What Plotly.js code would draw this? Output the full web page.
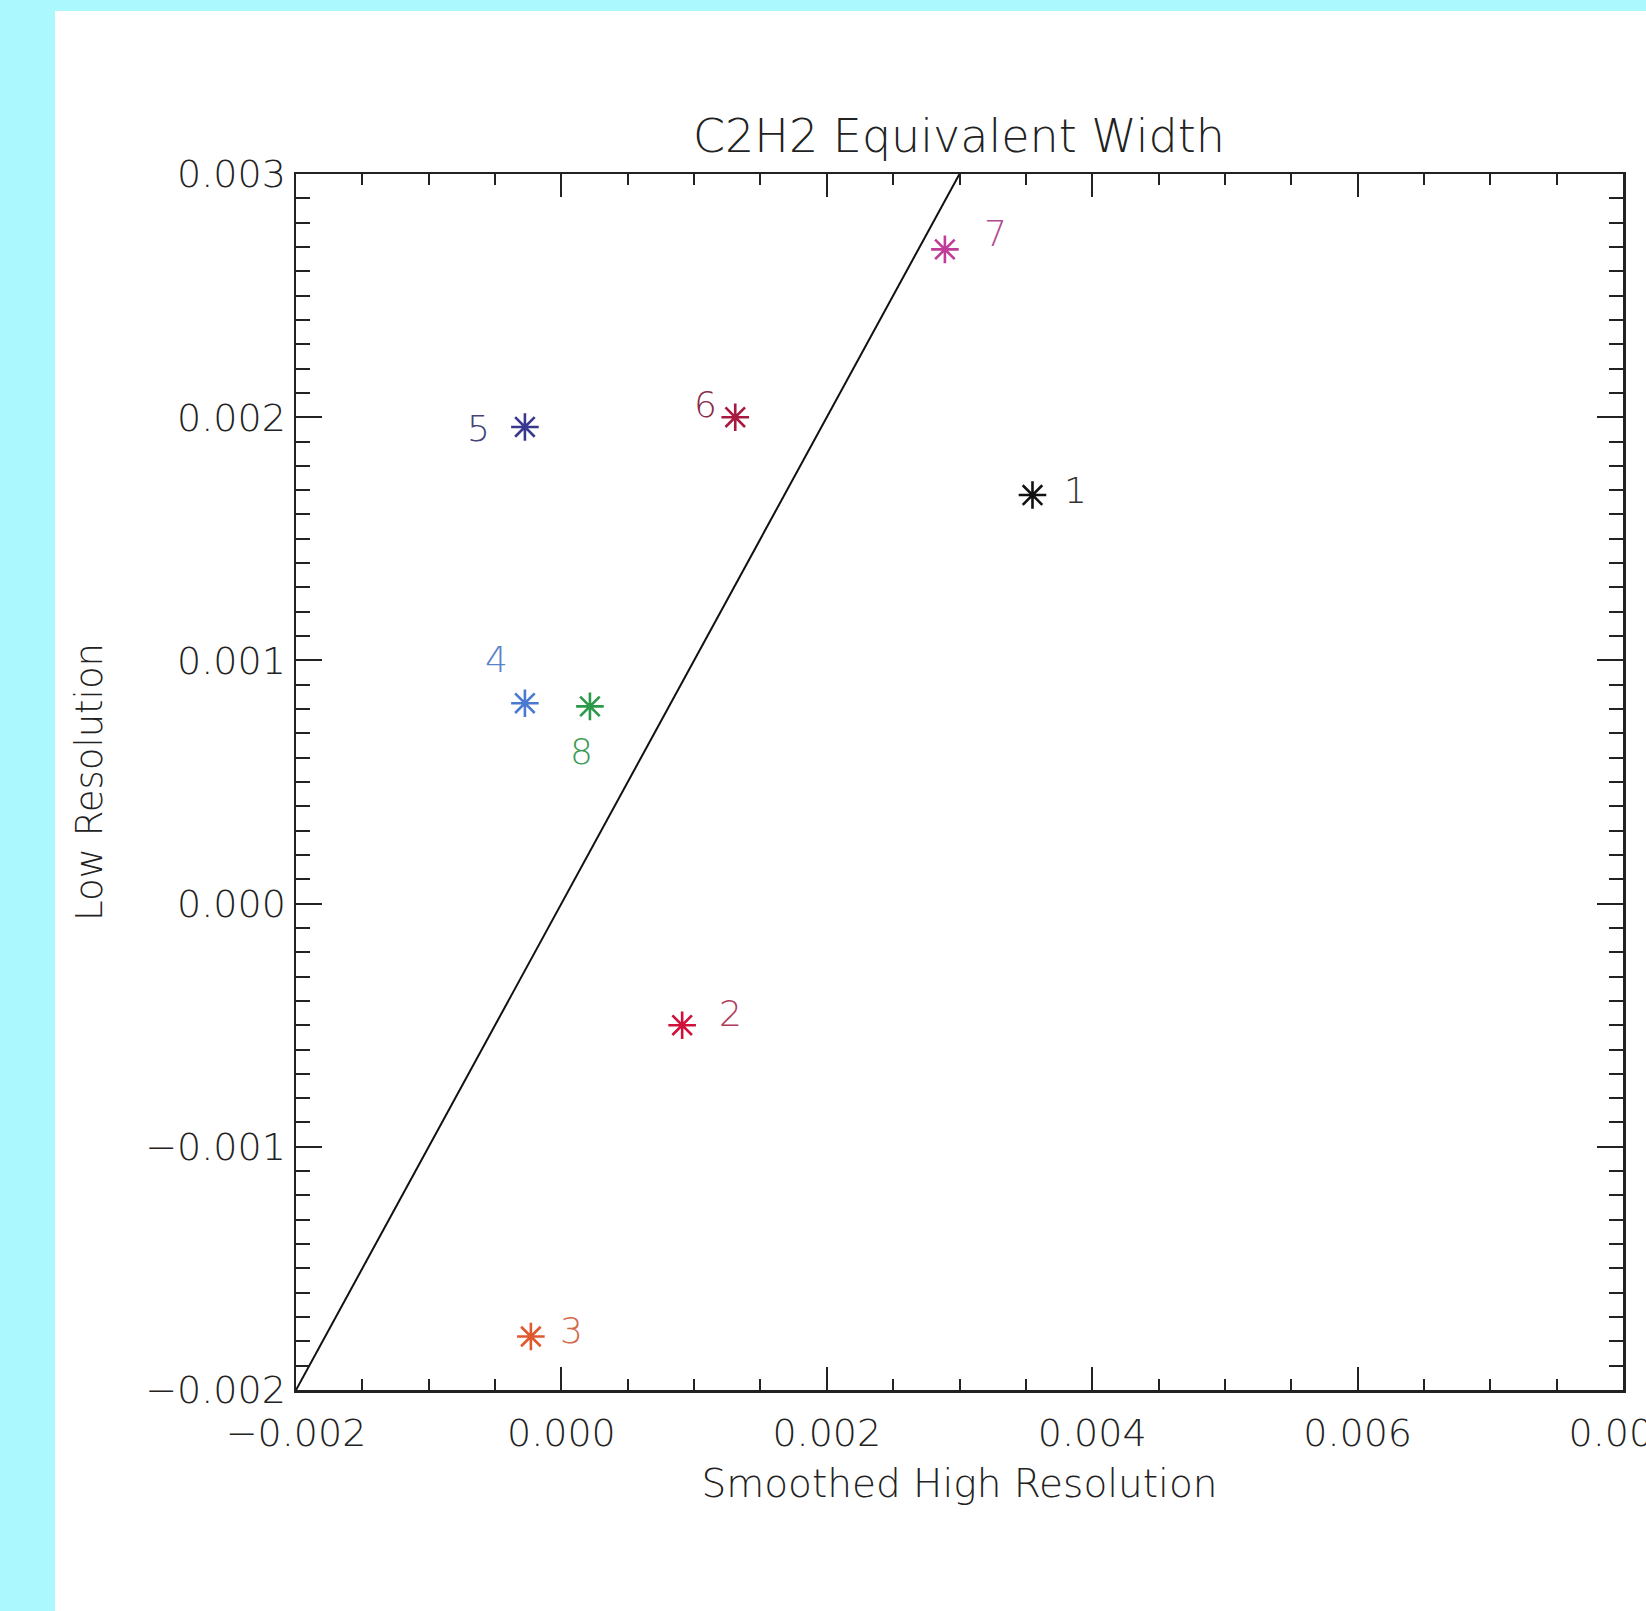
<!DOCTYPE html>
<html>
<head>
<meta charset="utf-8">
<script src="https://cdn.plot.ly/plotly-3.0.1.min.js"></script>
<style>
  html, body { margin: 0; padding: 0; background: #abf9ff; width: 1646px; height: 1611px; overflow: hidden; }
  #chart { position: absolute; left: 55px; top: 11px; width: 1591px; height: 1600px; background: #ffffff; }
</style>
</head>
<body>
<div id="chart"></div>
<script>
// ---- data ----
const pointLabels = ['1', '2', '3', '4', '5', '6', '7', '8'];
const smoothedHighRes = [0.00355, 0.00091, -0.00023, -0.000275, -0.000275, 0.00131, 0.00289, 0.000215];
const lowRes = [0.00168, -0.00050, -0.00178, 0.000824, 0.00196, 0.00200, 0.00269, 0.000811];
const oneToOneLine = [-0.002, 0.003];
const xTickVals = [-0.002, 0.000, 0.002, 0.004, 0.006, 0.008];
const xTickText = ['\u22120.002', '0.000', '0.002', '0.004', '0.006', '0.008'];
const yTickVals = [-0.002, -0.001, 0.000, 0.001, 0.002, 0.003];
const yTickText = ['\u22120.002', '\u22120.001', '0.000', '0.001', '0.002', '0.003'];

// ---- styles ----
const pointColors = ['#111111', '#d0103a', '#e0582e', '#4a7ad0', '#38388e', '#a8183f', '#c03c98', '#2a9a48'];
const labelColors = ['#333333', '#b03a5a', '#d06a4a', '#5a82c8', '#44447a', '#8a2a48', '#b04a90', '#3a9a55'];
const labelShift = [[43, 5], [48, 12], [41, 6], [-28, 44], [-46, -2], [-30, 13], [51, 16], [-8, -45]];

const FONT = '"DejaVu Sans", "Liberation Sans", sans-serif';
const INK = '#222222';

const traces = [
  {
    x: oneToOneLine, y: oneToOneLine,
    mode: 'lines', type: 'scatter',
    line: { color: '#111111', width: 2 },
    hoverinfo: 'skip', showlegend: false
  },
  {
    x: smoothedHighRes, y: lowRes,
    mode: 'markers', type: 'scatter',
    marker: {
      symbol: 'asterisk-open', size: 23,
      color: pointColors,
      line: { color: pointColors, width: 2.6 }
    },
    showlegend: false
  }
];

const annotations = pointLabels.map((t, i) => ({
  x: smoothedHighRes[i], y: lowRes[i], xref: 'x', yref: 'y',
  text: t, showarrow: false,
  xshift: labelShift[i][0], yshift: labelShift[i][1],
  font: { family: FONT, size: 36, color: labelColors[i], weight: 200 }
}));

const axisCommon = {
  showgrid: false, zeroline: false,
  showline: true, linecolor: INK, linewidth: 2.5,
  mirror: 'allticks',
  ticks: 'inside', tickcolor: INK, tickwidth: 2,
  tickmode: 'array',
  ticklabeloverflow: 'allow',
  tickfont: { family: FONT, size: 38, color: INK, weight: 200 }
};

const layout = {
  width: 1591, height: 1600,
  paper_bgcolor: '#ffffff', plot_bgcolor: '#ffffff',
  margin: { l: 241, r: 23, t: 163, b: 221 },
  title: {
    text: 'C2H2 Equivalent Width',
    font: { family: FONT, size: 46, color: INK, weight: 200 },
    x: (959 - 55) / 1591, xanchor: 'center',
    y: 1 - (136 - 11) / 1600, yanchor: 'middle'
  },
  xaxis: Object.assign({}, axisCommon, {
    range: [-0.002, 0.008],
    tickvals: xTickVals, ticktext: xTickText,
    ticklen: 23, ticklabelstandoff: 8,
    minor: { dtick: 0.0005, ticklen: 11, tickcolor: INK, tickwidth: 2, ticks: 'inside', showgrid: false },
    title: { text: 'Smoothed High Resolution', font: { family: FONT, size: 39, color: INK, weight: 200 }, standoff: 16 }
  }),
  yaxis: Object.assign({}, axisCommon, {
    range: [-0.002, 0.003],
    tickvals: yTickVals, ticktext: yTickText,
    ticklen: 26, ticklabelstandoff: 0,
    minor: { dtick: 0.0001, ticklen: 14, tickcolor: INK, tickwidth: 2, ticks: 'inside', showgrid: false },
    title: { text: 'Low Resolution', font: { family: FONT, size: 37, color: INK, weight: 200 }, standoff: 32 }
  }),
  annotations: annotations
};

Plotly.newPlot('chart', traces, layout, { displayModeBar: false, staticPlot: true });
</script>
</body>
</html>
